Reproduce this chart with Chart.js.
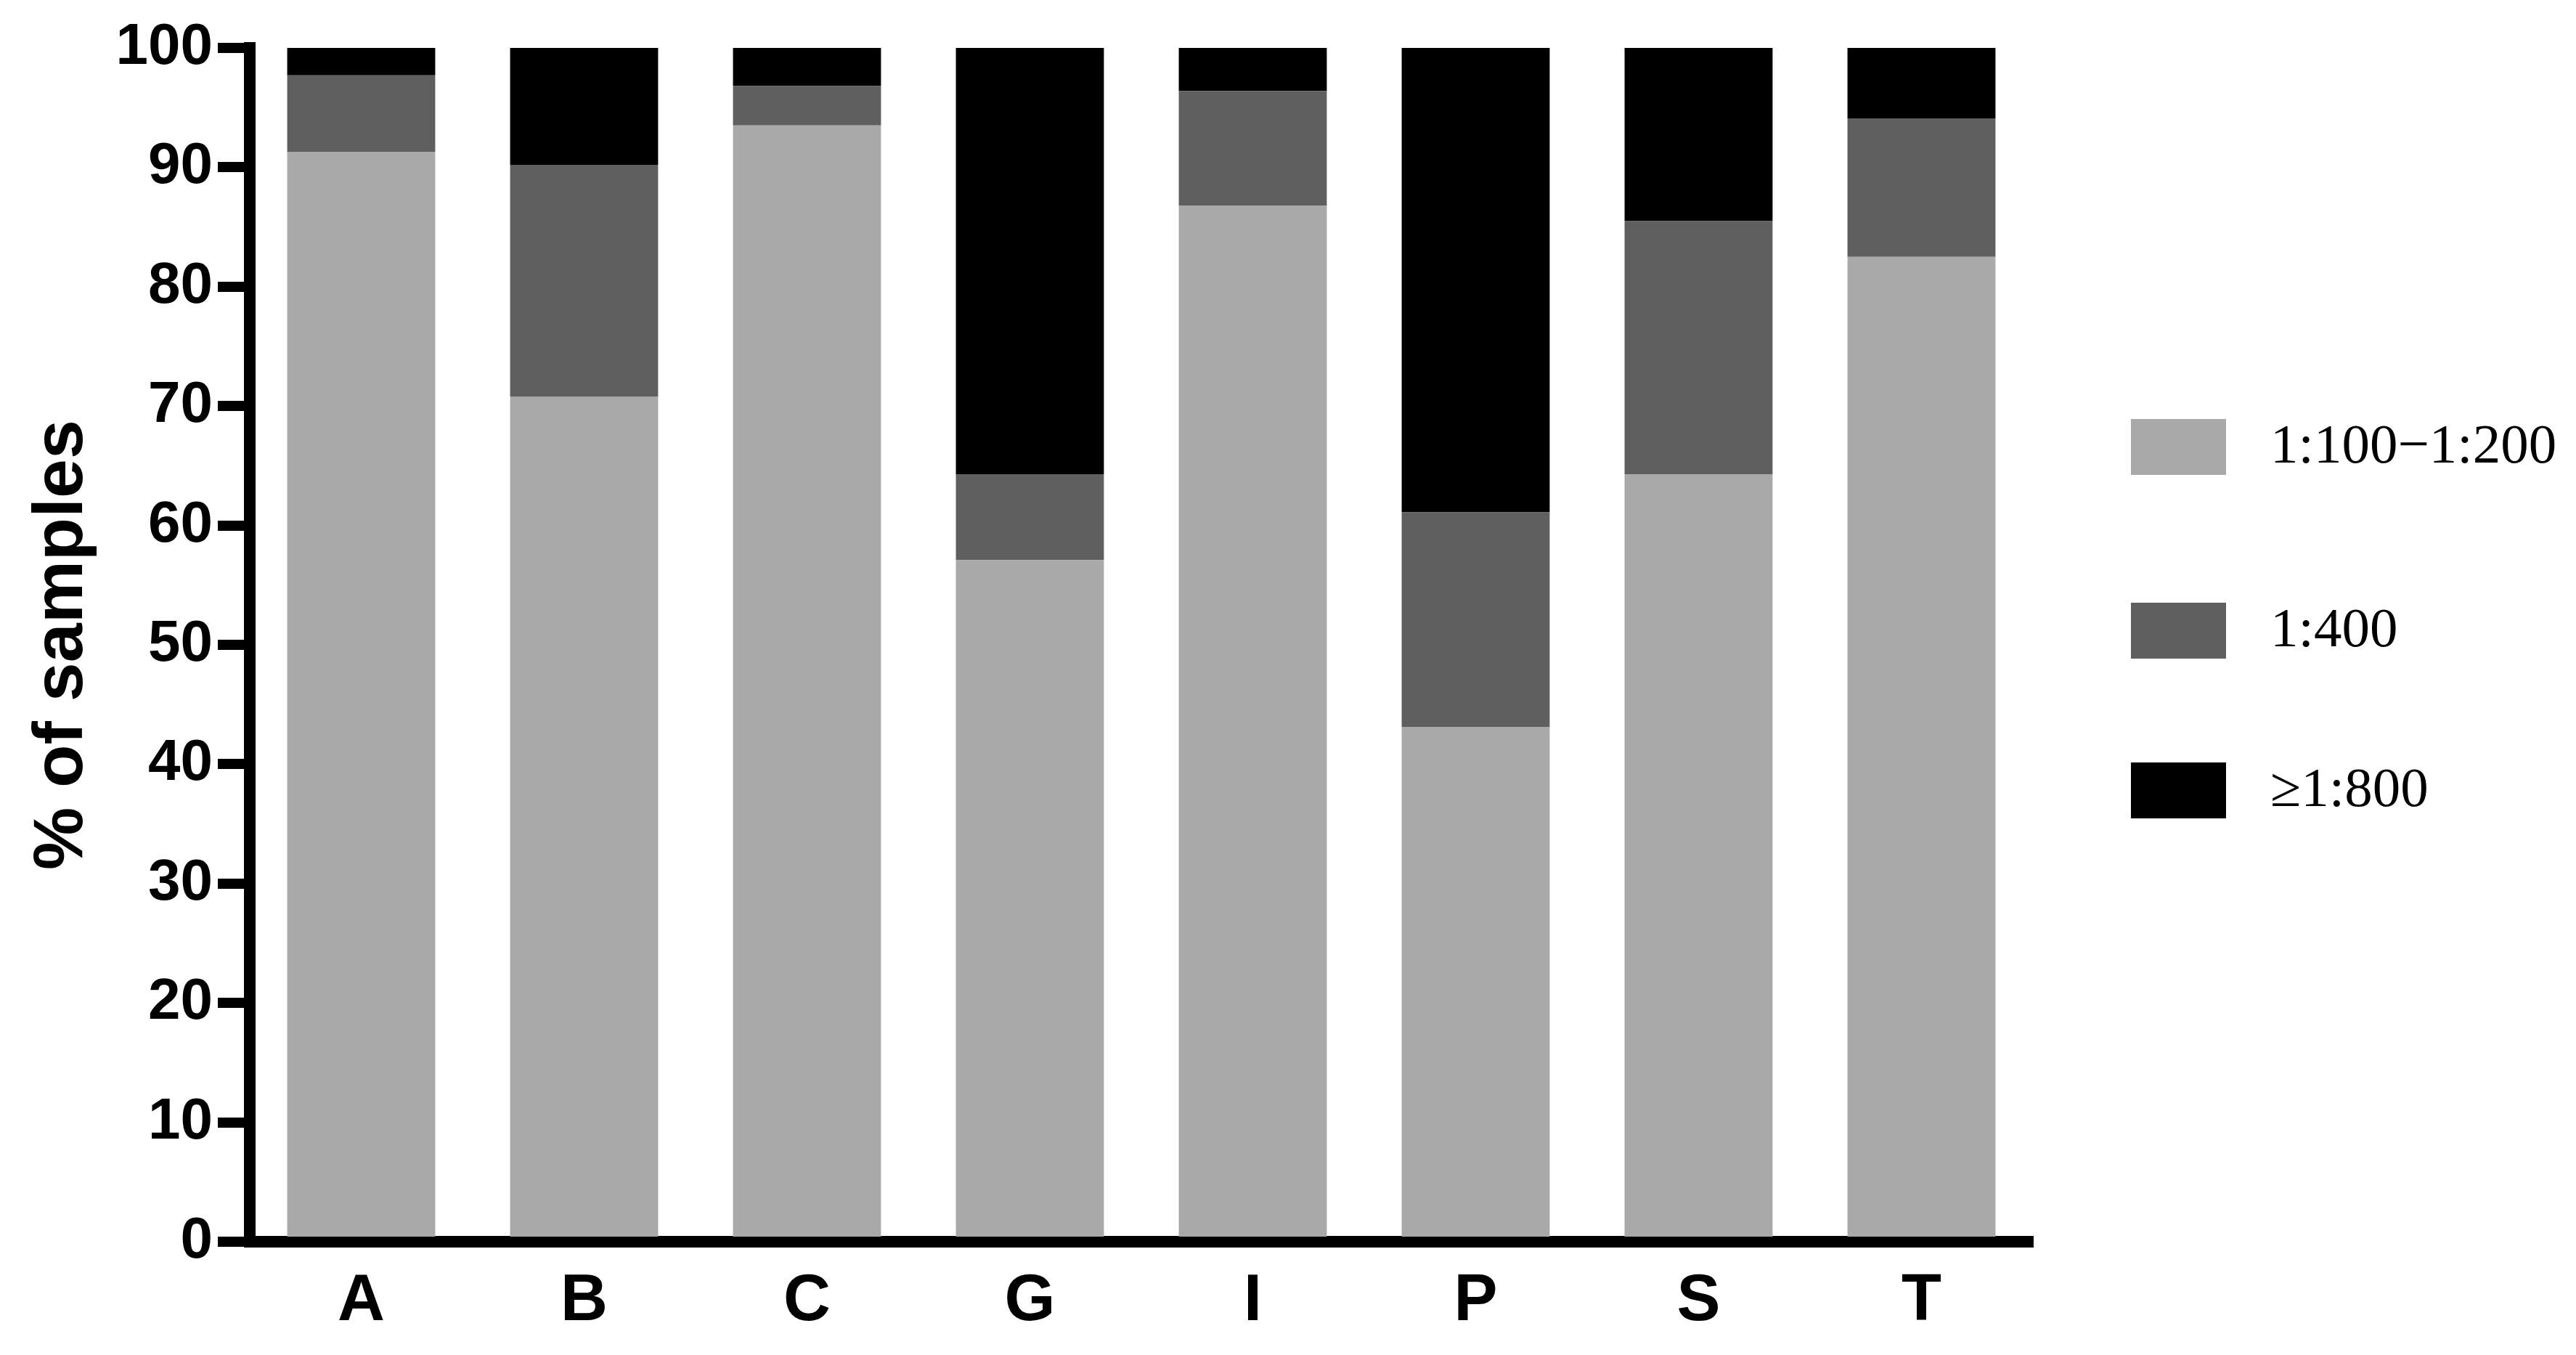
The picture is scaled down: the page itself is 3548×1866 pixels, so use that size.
<!DOCTYPE html>
<html>
<head>
<meta charset="utf-8">
<script src="https://cdn.jsdelivr.net/npm/chart.js@4.4.0/dist/chart.umd.min.js"></script>
<style>
  html, body { margin: 0; padding: 0; background: #fff; }
</style>
</head>
<body>
<canvas id="chart" width="3548" height="1866"></canvas>
<script>
// Categories and stacked percentages
const categories = ['A', 'B', 'C', 'G', 'I', 'P', 'S', 'T'];
const lowTitre = [91.3, 70.8, 93.5, 57.1, 86.8, 43.1, 64.3, 82.5];   // 1:100-1:200
const midTitre = [6.4, 19.4, 3.3, 7.2, 9.6, 18.0, 21.2, 11.6];       // 1:400
const highTitre = [2.3, 9.8, 3.2, 35.7, 3.6, 38.9, 14.5, 5.9];       // >=1:800
const seriesLabels = ['1:100\u22121:200', '1:400', '\u22651:800'];
const yTicks = [0, 10, 20, 30, 40, 50, 60, 70, 80, 90, 100];

const seriesColors = ['#a9a9a9', '#5f5f5f', '#000000'];
const sans = '"Liberation Sans", Arial, sans-serif';

// Legend drawn by hand: the rows in the figure are not evenly spaced
const sideLegend = {
    id: 'sideLegend',
    afterDraw(chart) {
        const ctx = chart.ctx;
        const rows = [615, 868, 1088]; // centre of each row
        ctx.save();
        chart.data.datasets.forEach((ds, i) => {
            const cy = rows[i];
            ctx.fillStyle = ds.backgroundColor;
            ctx.fillRect(2935, cy - 38, 131, 77);
            ctx.fillStyle = '#000';
            ctx.font = '77px "Liberation Serif", "Times New Roman", serif';
            ctx.textBaseline = 'middle';
            ctx.textAlign = 'left';
            ctx.fillText(ds.label, 3127, cy + 2);
        });
        ctx.restore();
    }
};

const ctx = document.getElementById('chart').getContext('2d');
const chart = new Chart(ctx, {
    type: 'bar',
    data: {
        labels: categories,
        datasets: [
            { label: seriesLabels[0], data: lowTitre, backgroundColor: seriesColors[0] },
            { label: seriesLabels[1], data: midTitre, backgroundColor: seriesColors[1] },
            { label: seriesLabels[2], data: highTitre, backgroundColor: seriesColors[2] }
        ]
    },
    options: {
        responsive: false,
        animation: false,
        devicePixelRatio: 1,
        categoryPercentage: 1.0,
        barPercentage: 0.664,
        layout: { padding: { left: 20, right: 748, top: 66, bottom: 0 } },
        plugins: {
            legend: { display: false },
            tooltip: { enabled: false }
        },
        scales: {
            x: {
                stacked: true,
                z: 1,
                grid: { display: false, drawTicks: false },
                border: { display: true, color: '#000', width: 16 },
                ticks: {
                    color: '#000',
                    padding: 29,
                    font: { family: sans, size: 90, weight: 'bold' }
                },
                afterFit: (scale) => { scale.height = 156; }
            },
            y: {
                stacked: true,
                z: 1,
                min: 0,
                max: 100,
                afterBuildTicks: (scale) => { scale.ticks = yTicks.map(v => ({ value: v })); },
                grid: {
                    drawOnChartArea: false,
                    drawTicks: true,
                    tickLength: 44,
                    tickWidth: 14,
                    tickColor: '#000',
                    lineWidth: 14,
                    color: '#000'
                },
                border: { display: true, color: '#000', width: 16 },
                ticks: {
                    color: '#000',
                    padding: 7,
                    font: { family: sans, size: 80, weight: 'bold' }
                },
                title: {
                    display: true,
                    text: '% of samples',
                    color: '#000',
                    padding: { top: 8, bottom: 0 },
                    font: { family: sans, size: 97, weight: 'bold' }
                },
                afterFit: (scale) => { scale.width = 324; }
            }
        }
    },
    plugins: [sideLegend]
});
</script>
</body>
</html>
